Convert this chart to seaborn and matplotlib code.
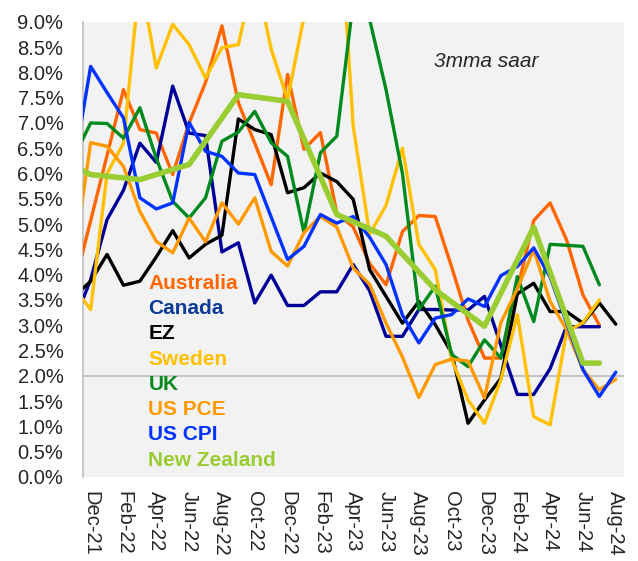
import numpy as np
import pandas as pd
import matplotlib
matplotlib.use('Agg')
import matplotlib.pyplot as plt
import seaborn as sns

# months: index 0 = Dec-21, -1 = Nov-21 (clipped by the axis), 32 = Aug-24
months = list(range(-1, 33))
nan = np.nan

australia = [3.78, 5.07, 6.36, 7.66, 6.87, 6.80, 5.98, 7.00, 7.80, 8.92, 7.40, 6.60, 5.78, 7.96, 6.48, 6.81,
             5.22, 4.94, 4.22, 3.80, 4.85, 5.17, 5.15, 4.15, 3.10, 2.35, 2.35, 3.70, 5.07, 5.42, 4.69, 3.60, 3.00, nan]
canada = [3.08, 3.90, 5.09, 5.67, 6.60, 6.22, 7.73, 6.80, 6.75, 4.45, 4.63, 3.44, 3.99, 3.39, 3.39, 3.66,
          3.66, 4.20, 3.68, 2.78, 2.78, 3.31, 3.31, 3.30, 3.30, 3.57, 2.60, 1.63, 1.63, 2.14, 2.97, 2.97, 2.97, nan]
ez = [3.57, 3.87, 4.40, 3.79, 3.87, 4.35, 4.87, 4.33, 4.60, 4.78, 7.08, 6.87, 6.77, 5.62, 5.72, 6.01,
      5.84, 5.49, 4.10, 3.57, 3.04, 3.47, 3.01, 2.45, 1.06, 1.52, 1.95, 3.62, 3.83, 3.27, 3.27, 3.04, 3.44, 3.02]
sweden = [3.74, 3.31, 6.00, 6.60, 9.90, 8.09, 8.95, 8.55, 7.89, 8.49, 8.55, 10.0, 8.46, 7.47, 9.10, 11.0,
          12.0, 6.94, 4.80, 5.37, 6.50, 4.60, 4.10, 2.32, 1.52, 1.06, 1.92, 3.21, 1.19, 1.03, 2.87, 3.05, 3.50, nan]
uk = [6.34, 7.00, 6.99, 6.70, 7.30, 6.30, 5.45, 5.12, 5.52, 6.64, 6.82, 7.23, 6.61, 6.34, 4.83, 6.41,
      6.74, 9.40, 9.05, 7.66, 6.00, 3.31, 3.77, 2.42, 2.18, 2.71, 2.35, 3.96, 3.07, 4.60, 4.58, 4.56, 3.80, nan]
us_pce = [4.36, 6.61, 6.54, 6.14, 5.25, 4.66, 4.43, 5.12, 4.65, 5.42, 5.00, 5.52, 4.46, 4.17, 4.83, 5.15,
          4.94, 4.13, 3.81, 3.04, 2.37, 1.57, 2.22, 2.33, 2.29, 1.56, 3.05, 3.72, 4.49, 3.47, 2.91, 2.12, 1.72, 1.93]
us_cpi = [6.19, 8.12, 7.60, 7.10, 5.52, 5.30, 5.42, 7.01, 6.44, 6.34, 6.01, 5.98, 5.14, 4.30, 4.56, 5.19,
          5.02, 5.15, 4.74, 4.20, 3.20, 2.65, 3.14, 3.21, 3.52, 3.37, 3.98, 4.16, 4.53, 3.95, 3.05, 2.12, 1.59, 2.07]

# New Zealand is quarterly
nz_months = [-3, 0, 3, 6, 9, 12, 15, 18, 21, 24, 27, 30, 31]
nz_values = [6.47, 5.98, 5.88, 6.18, 7.56, 7.43, 5.19, 4.76, 3.70, 2.98, 4.94, 2.25, 2.25]

tick_pos = list(range(0, 33, 2))
tick_labels = ['Dec-21', 'Feb-22', 'Apr-22', 'Jun-22', 'Aug-22', 'Oct-22', 'Dec-22', 'Feb-23', 'Apr-23',
               'Jun-23', 'Aug-23', 'Oct-23', 'Dec-23', 'Feb-24', 'Apr-24', 'Jun-24', 'Aug-24']

series = {
    'Australia': australia,
    'Canada': canada,
    'EZ': ez,
    'Sweden': sweden,
    'UK': uk,
    'US PCE': us_pce,
    'US CPI': us_cpi,
}
line_colors = {'Australia': '#FF6600', 'Canada': '#000099', 'EZ': '#000000', 'Sweden': '#FFC000',
               'UK': '#008A1E', 'US PCE': '#FF9900', 'US CPI': '#0033FF', 'New Zealand': '#9ACD32'}
text_colors = {'Australia': '#FF6600', 'Canada': '#0B3A97', 'EZ': '#000000', 'Sweden': '#FFC000',
               'UK': '#0A8A1E', 'US PCE': '#FF9900', 'US CPI': '#0033FF', 'New Zealand': '#9ACD32'}

sns.set_style('white')
plt.rcParams['font.family'] = ['Liberation Sans', 'DejaVu Sans']

fig = plt.figure(figsize=(6.38, 5.61), dpi=100)
ax = fig.add_axes([0.130, 0.150, 0.848, 0.811])
ax.set_facecolor('#F2F2F2')

ax.axhline(2.0, color='#BFBFBF', lw=1.3, zorder=1)

for name, vals in series.items():
    df = pd.DataFrame({'month': months, 'value': vals}).dropna()
    sns.lineplot(data=df, x='month', y='value', color=line_colors[name], lw=2.4, ax=ax,
                 sort=False, zorder=3)

nz = pd.DataFrame({'month': nz_months, 'value': nz_values})
sns.lineplot(data=nz, x='month', y='value', color=line_colors['New Zealand'], lw=4.0, ax=ax,
             sort=False, zorder=4)

ax.set_xlim(-0.47, 32.5)
ax.set_ylim(0, 9)
ax.set_yticks(np.arange(0, 9.01, 0.5))
ax.set_yticklabels([f'{v:.1f}%' for v in np.arange(0, 9.01, 0.5)], fontsize=14.5)
ax.set_xticks(tick_pos)
ax.set_xticklabels(tick_labels, rotation=270, fontsize=14.5, va='top', ha='center')
ax.tick_params(axis='y', length=0, pad=14)
ax.tick_params(axis='x', length=0, pad=10)
ax.set_xlabel('')
ax.set_ylabel('')

for side in ['top', 'right', 'bottom']:
    ax.spines[side].set_visible(False)
ax.spines['left'].set_color('#BFBFBF')
ax.spines['left'].set_linewidth(1.2)

# legend as coloured text
names = list(series.keys()) + ['New Zealand']
for k, name in enumerate(names):
    ax.text(0.121, 0.425 - k * 0.0555, name, transform=ax.transAxes, color=text_colors[name],
            fontsize=15, fontweight='bold', va='center', ha='left', zorder=5)

ax.text(0.648, 0.913, '3mma saar', transform=ax.transAxes, fontsize=15, style='italic',
        va='center', ha='left')

fig.savefig('out.png', dpi=100)
